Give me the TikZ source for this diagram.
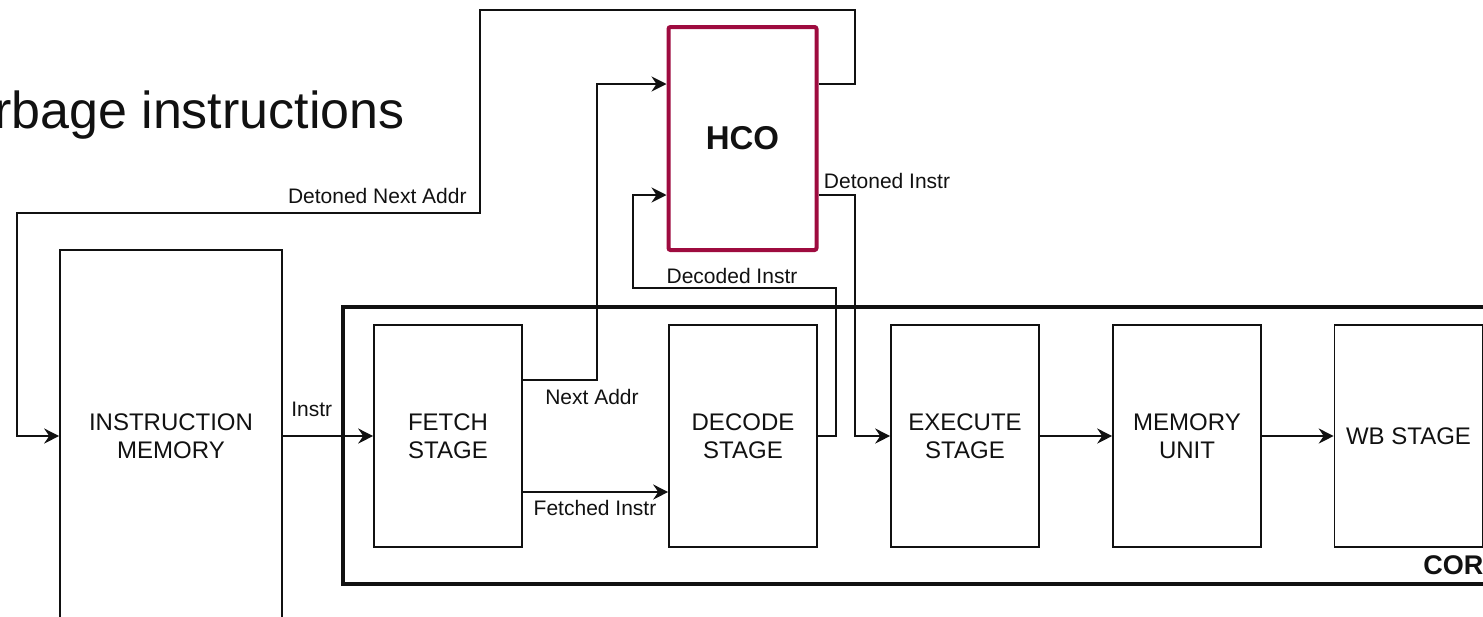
\documentclass[tikz,border=0pt]{standalone}
\usepackage{fontspec}
\setmainfont{Liberation Sans}
\usetikzlibrary{arrows.meta,positioning}
\definecolor{Ink}{HTML}{111111}
\definecolor{Crimson}{HTML}{9E0B3F}

\begin{document}
\begin{tikzpicture}[x=0.5pt,y=-0.5pt,>={Stealth[length=7.5pt,width=7.5pt,inset=2.5pt]},stagebox/.style={draw=Ink,line width=0.8pt,minimum width=74pt,minimum height=111pt,inner sep=0pt,align=center,text=Ink,font=\fontsize{12}{14}\selectfont},wire/.style={->,line width=0.9pt,draw=Ink},sig/.style={inner sep=0pt,text=Ink,font=\fontsize{10.5}{12}\selectfont}]
\useasboundingbox (0,0) rectangle (1483,616);
\node[anchor=base east,inner sep=0pt,text=Ink,font=\fontsize{26}{30}\selectfont] (title) at (405,128) {rbage instructions};
\node[draw=Ink,line width=1.6pt,minimum width=585pt,minimum height=138.5pt,inner sep=0pt] (core) at (928,445.5) {};\node[anchor=west,inner sep=0pt,text=Ink,font=\bfseries\fontsize{13.5}{15}\selectfont] (corelbl) at (1423,565) {CORE};
\node[stagebox,minimum width=111pt,minimum height=186pt] (imem) at (171,436) {INSTRUCTION\\MEMORY};\node[stagebox] (fetch) at (448,436) {FETCH\\STAGE};\node[stagebox] (decode) at (743,436) {DECODE\\STAGE};\node[stagebox] (exec) at (965,436) {EXECUTE\\STAGE};\node[stagebox] (mem) at (1187,436) {MEMORY\\UNIT};\node[stagebox] (wb) at (1408.5,436) {WB STAGE};
\node[stagebox,draw=Crimson,line width=2pt,rounded corners=1pt,minimum height=111.5pt,font=\bfseries\fontsize{16.5}{18}\selectfont] (hco) at (742.5,138.5) {HCO};
\draw[wire] (hco.east |- 0,84) -- (855,84) |- (480,10) |- (17,213) |- (imem.west);\node[sig,anchor=base east] at (467,203) {Detoned Next Addr};
\draw[wire] (imem.east) -- (fetch.west) node[sig,pos=0.32,above=9pt] {Instr};
\draw[wire] (fetch.east |- 0,380) -| (597,84) -- (hco.west |- 0,84);\node[sig] at (592,397) {Next Addr};
\draw[wire] (fetch.east |- 0,492) -- (decode.west |- 0,492);\node[sig] at (595,508) {Fetched Instr};
\draw[wire] (decode.east) -- (836,436) |- (633,288) |- (hco.west |- 0,195);\node[sig] at (732,276) {Decoded Instr};
\draw[wire] (hco.east |- 0,195) -- (855,195) |- (exec.west);\node[sig] at (887,181) {Detoned Instr};
\draw[wire] (exec) -- (mem);\draw[wire] (mem) -- (wb);
\end{tikzpicture}
\end{document}
